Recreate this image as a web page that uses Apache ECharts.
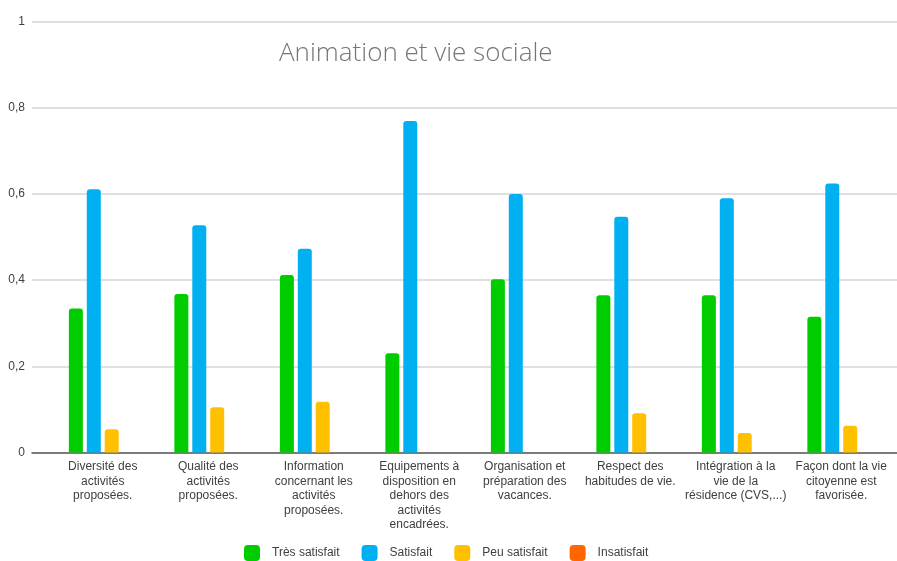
<!DOCTYPE html>
<html>
<head>
<meta charset="utf-8">
<script src="https://cdn.jsdelivr.net/npm/echarts@6/dist/echarts.min.js"></script>
<style>
  html, body { margin: 0; padding: 0; background: #ffffff; }
  #chart { width: 897px; height: 561px; }
</style>
</head>
<body>
<div id="chart"></div>
<script>
// Survey themes (x axis)
const categories = [
  'Diversité des\nactivités\nproposées.',
  'Qualité des\nactivités\nproposées.',
  'Information\nconcernant les\nactivités\nproposées.',
  'Equipements à\ndisposition en\ndehors des\nactivités\nencadrées.',
  'Organisation et\npréparation des\nvacances.',
  'Respect des\nhabitudes de vie.',
  'Intégration à la\nvie de la\nrésidence (CVS,...)',
  'Façon dont la vie\ncitoyenne est\nfavorisée.'
];

// Share of answers per theme
const tresSatisfait = [0.334, 0.368, 0.412, 0.230, 0.402, 0.365, 0.365, 0.315];
const satisfait     = [0.611, 0.527, 0.473, 0.769, 0.600, 0.547, 0.590, 0.624];
const peuSatisfait  = [0.054, 0.105, 0.118, null, null, 0.091, 0.045, 0.062];
const insatisfait   = [null, null, null, null, null, null, null, null];

const yTicks = [0, 0.2, 0.4, 0.6, 0.8, 1];

const chart = echarts.init(document.getElementById('chart'), null, { renderer: 'canvas' });

const labelFont = '"Liberation Sans", "Open Sans", sans-serif';
const gridTop = 21.5;
const gridBottom = 108.5;

function barSeries(name, data, color) {
  return {
    name: name,
    type: 'bar',
    xAxisIndex: 1,
    yAxisIndex: 1,
    data: data,
    barWidth: 14,
    barGap: '28%',
    itemStyle: { color: color, borderRadius: [3, 3, 0, 0] }
  };
}

chart.setOption({
  animation: false,
  backgroundColor: '#ffffff',
  title: {
    text: 'Animation et vie sociale',
    left: 274,
    top: 36,
    textStyle: {
      fontFamily: '"Open Sans", sans-serif',
      fontWeight: 300,
      fontSize: 26,
      color: '#767676'
    }
  },
  legend: {
    data: ['Très satisfait', 'Satisfait', 'Peu satisfait', 'Insatisfait'],
    left: 239,
    top: 540,
    itemWidth: 16,
    itemHeight: 16,
    itemGap: 22,
    icon: 'roundRect',
    textStyle: {
      fontFamily: labelFont,
      fontSize: 12,
      color: '#404040',
      padding: [0, 0, 0, 7]
    }
  },
  grid: [
    { left: 32, right: 0, top: gridTop, bottom: gridBottom },
    { left: 50, right: 3, top: gridTop, bottom: gridBottom }
  ],
  xAxis: [
    {
      type: 'value',
      gridIndex: 0,
      min: 0,
      max: 1,
      axisLine: { show: true, lineStyle: { color: '#595959', width: 1.5 } },
      axisTick: { show: false },
      axisLabel: { show: false },
      splitLine: { show: false }
    },
    {
      type: 'category',
      gridIndex: 1,
      data: categories,
      axisLine: { show: false },
      axisTick: { show: false },
      axisLabel: {
        interval: 0,
        margin: 7,
        fontFamily: labelFont,
        fontSize: 12,
        lineHeight: 14.5,
        color: '#404040',
        align: 'center'
      }
    }
  ],
  yAxis: [
    {
      type: 'value',
      gridIndex: 0,
      min: yTicks[0],
      max: yTicks[yTicks.length - 1],
      interval: 0.2,
      axisLine: { show: false },
      axisTick: { show: false },
      axisLabel: {
        margin: 7,
        fontFamily: labelFont,
        fontSize: 12,
        color: '#404040',
        formatter: v => String(+v.toFixed(1)).replace('.', ',')
      },
      splitLine: { lineStyle: { color: '#d6d6d6', width: 1.5 } }
    },
    {
      type: 'value',
      gridIndex: 1,
      min: 0,
      max: 1,
      show: false,
      splitLine: { show: false }
    }
  ],
  series: [
    barSeries('Très satisfait', tresSatisfait, '#00CC00'),
    barSeries('Satisfait', satisfait, '#00B0F0'),
    barSeries('Peu satisfait', peuSatisfait, '#FFC000'),
    barSeries('Insatisfait', insatisfait, '#FF6600')
  ]
});
</script>
</body>
</html>
